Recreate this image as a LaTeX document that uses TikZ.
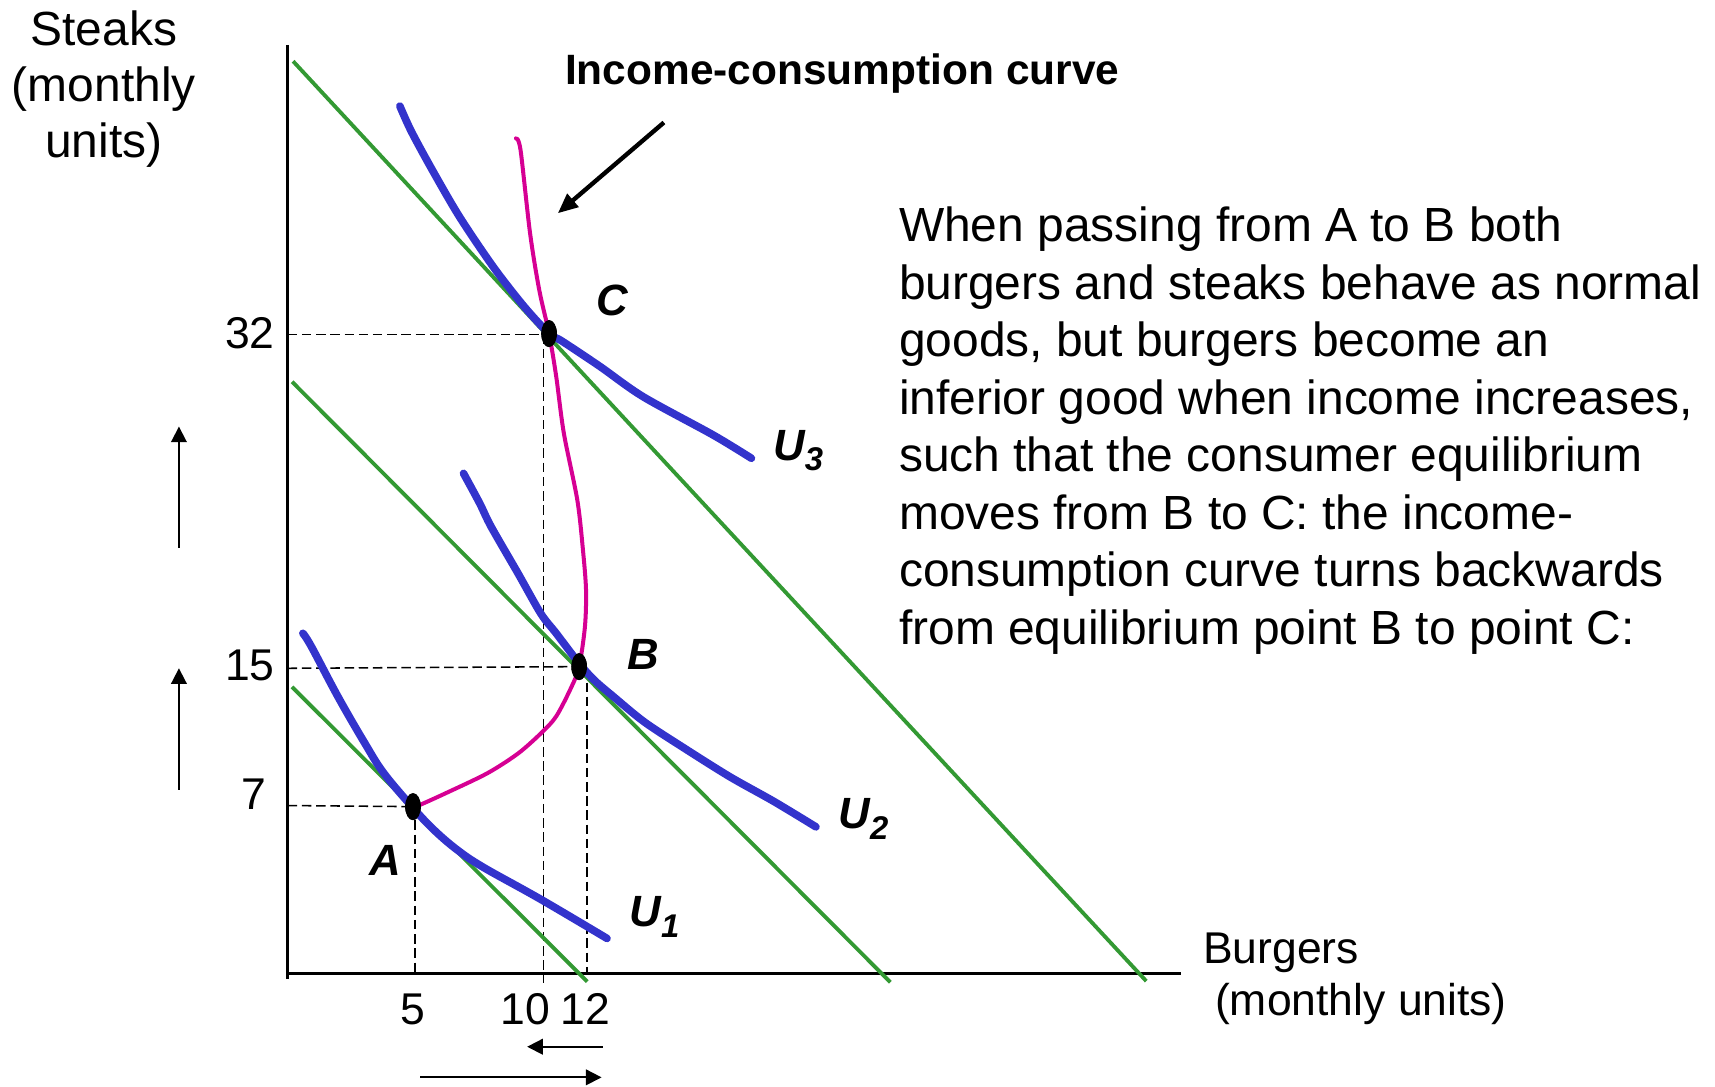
\documentclass[tikz,border=0pt]{standalone}
\usepackage{fontspec}
\setmainfont{Liberation Sans}
\usetikzlibrary{arrows.meta,shapes.geometric}
\definecolor{bgreen}{RGB}{51,153,51}
\definecolor{ublue}{RGB}{51,51,204}
\definecolor{iccpink}{RGB}{214,0,147}
\newcommand\ulab[1]{U\raisebox{-3pt}{\fontsize{9}{10}\selectfont #1}}
\begin{document}
\begin{tikzpicture}[x=0.3pt,y=-0.3pt,
  every node/.style={inner sep=0pt,outer sep=0pt},
  axisline/.style={line width=0.7pt},
  budget/.style={draw=bgreen,line width=1.05pt},
  indiff/.style={draw=ublue,line width=2.1pt,line cap=round,line join=round},
  icc/.style={draw=iccpink,line width=1.1pt,line cap=round},
  guide/.style={line width=0.42pt,dash pattern=on 2.6pt off 1.3pt},
  eqdot/.style={ellipse,fill=black,minimum width=4.2pt,minimum height=7.3pt},
  movearrow/.style={line width=0.5pt,-{Triangle[length=4.3pt,width=4.3pt]}},
  txt/.style={font=\fontsize{13.15}{15.8}\selectfont},
  tick/.style={font=\fontsize{12.2}{14}\selectfont},
  ptlabel/.style={font=\fontsize{12}{14}\selectfont\bfseries\itshape},
  ulabel/.style={anchor=base west,font=\fontsize{12}{14}\selectfont\bfseries\itshape},
  axlabel/.style={font=\fontsize{12.2}{14}\selectfont,anchor=base west},
  ]
\useasboundingbox (0,0) rectangle (1568,993);

% axes
\coordinate (O) at (263,890);
\coordinate (ytop) at (263,41);
\coordinate (ybot) at (263,895);
\coordinate (xend) at (1080,890);
\draw[axisline] (ytop) -- (ybot);
\draw[axisline] (O) -- (xend);

% equilibrium points
\node[eqdot] (A) at (377.6,737.5) {};
\node[eqdot] (B) at (529.5,609.5) {};
\node[eqdot] (C) at (502,305) {};

% guides
\coordinate (y32) at (263,306);
\coordinate (x10a) at (497,306);
\coordinate (x10b) at (497,899);
\coordinate (y15) at (263,611);
\coordinate (x12a) at (536.5,611);
\coordinate (x12b) at (536.5,890);
\coordinate (y7) at (263,736.5);
\coordinate (x5a) at (379.6,737);
\coordinate (x5b) at (379.6,890);
\draw[guide] (y32) -- (x10a);
\draw[guide] (x10a) -- (x10b);
\draw[guide] (y15) -- (B.center);
\draw[guide] (x12a) -- (x12b);
\draw[guide] (y7) -- (A.center);
\draw[guide] (x5a) -- (x5b);

% budget lines
\coordinate (L1a) at (267,628);  \coordinate (L1b) at (537,897.5);
\coordinate (L2a) at (267,349);  \coordinate (L2b) at (814,898);
\coordinate (L3a) at (268,56);   \coordinate (L3b) at (1048,897);
\draw[budget] (L1a) -- (L1b);
\draw[budget] (L2a) -- (L2b);
\draw[budget] (L3a) -- (L3b);

% indifference curves
\draw[indiff] plot[smooth,tension=0.5] coordinates {(365.6,97) (376,120) (395,155) (420,198) (451,244) (479,280) (502,305) (514,312) (548.5,335) (588,362.7) (652,397.7) (687,419)};
\draw[indiff] plot[smooth,tension=0.5] coordinates {(423.8,432.8) (438.5,460) (449,481.5) (473.5,524) (494.5,561) (508.5,579) (529.5,606.5) (543.5,622) (561,637) (589,660) (624,683) (667,710) (708,733) (746,756)};
\draw[indiff] plot[smooth,tension=0.6] coordinates {(276.9,579) (284.6,591) (309,637) (333.6,679.6) (351,707) (378,739) (397,759) (418,777) (442,793) (494,822) (555,858)};

% income-consumption curve
\draw[icc] plot[smooth,tension=0.5] coordinates {(471.7,126.5) (475.9,137) (484.6,213) (493,265) (502,305) (508.5,344) (515.5,396) (527.8,457) (533,503) (535.8,539.5) (534.8,573) (529.5,609.5) (522.5,628) (508.5,655) (494.5,670.5) (473.5,689) (445.5,707) (408,725) (383.7,736) (378,737.5)};

% redraw dots on top
\fill (A.center) ellipse [x radius=7.2, y radius=12.4];
\fill (B.center) ellipse [x radius=7.2, y radius=12.4];
\fill (C.center) ellipse [x radius=7.2, y radius=12.4];

% tick labels
\node[tick,anchor=east] (t32) at (251,305) {32};
\node[tick,anchor=east] (t15) at (251,608) {15};
\node[tick,anchor=east] (t7) at (243,726) {7};
\node[tick] (t5) at (377.6,922.5) {5};
\node[tick] (t10) at (480.4,922.5) {10};
\node[tick] (t12) at (535.5,922.5) {12};

% point labels
\node[ptlabel] (lC) at (559.5,275) {C};
\node[ptlabel] (lB) at (588,598) {B};
\node[ptlabel] (lA) at (352,787) {A};
\node[ulabel] (u3) at (707,420.6) {\ulab{3}};
\node[ulabel] (u2) at (766.6,757.3) {\ulab{2}};
\node[ulabel] (u1) at (575.5,847) {\ulab{1}};

% axis titles
\node[txt,anchor=base] (s1) at (95,42) {Steaks};
\node[txt,anchor=base] (s2) at (95,93) {(monthly};
\node[txt,anchor=base] (s3) at (95,144) {units)};
\node[axlabel] (b1) at (1100,880.5) {Burgers};
\node[axlabel] (b2) at (1111,928) {(monthly units)};

% income-consumption label and arrow
\node[font=\fontsize{11.64}{14}\selectfont\bfseries,anchor=base] (icclab) at (770,77.7) {Income-consumption curve};
\coordinate (icctail) at (607,112);
\coordinate (icctip) at (510,195);
\draw[line width=1.2pt,-{Triangle[length=5.5pt,width=4.6pt]}] (icctail) -- (icctip);

% movement arrows
\coordinate (va1) at (163.6,501); \coordinate (va1t) at (163.6,390);
\coordinate (va2) at (163.6,722); \coordinate (va2t) at (163.6,611);
\coordinate (ha1) at (551,957);   \coordinate (ha1t) at (482,957);
\coordinate (ha2) at (384,985);   \coordinate (ha2t) at (550,985);
\draw[movearrow] (va1) -- (va1t);
\draw[movearrow] (va2) -- (va2t);
\draw[movearrow] (ha1) -- (ha1t);
\draw[movearrow] (ha2) -- (ha2t);

% explanation
\foreach [count=\i] \t in {{When passing from A to B both},
  {burgers and steaks behave as normal},
  {goods, but burgers become an},
  {inferior good when income increases,},
  {such that the consumer equilibrium},
  {moves from B to C: the income-},
  {consumption curve turns backwards},
  {from equilibrium point B to point C:}}
  \node[txt,anchor=base west] (p\i) at (822,{221+52.57*(\i-1)}) {\t};
\end{tikzpicture}
\end{document}
